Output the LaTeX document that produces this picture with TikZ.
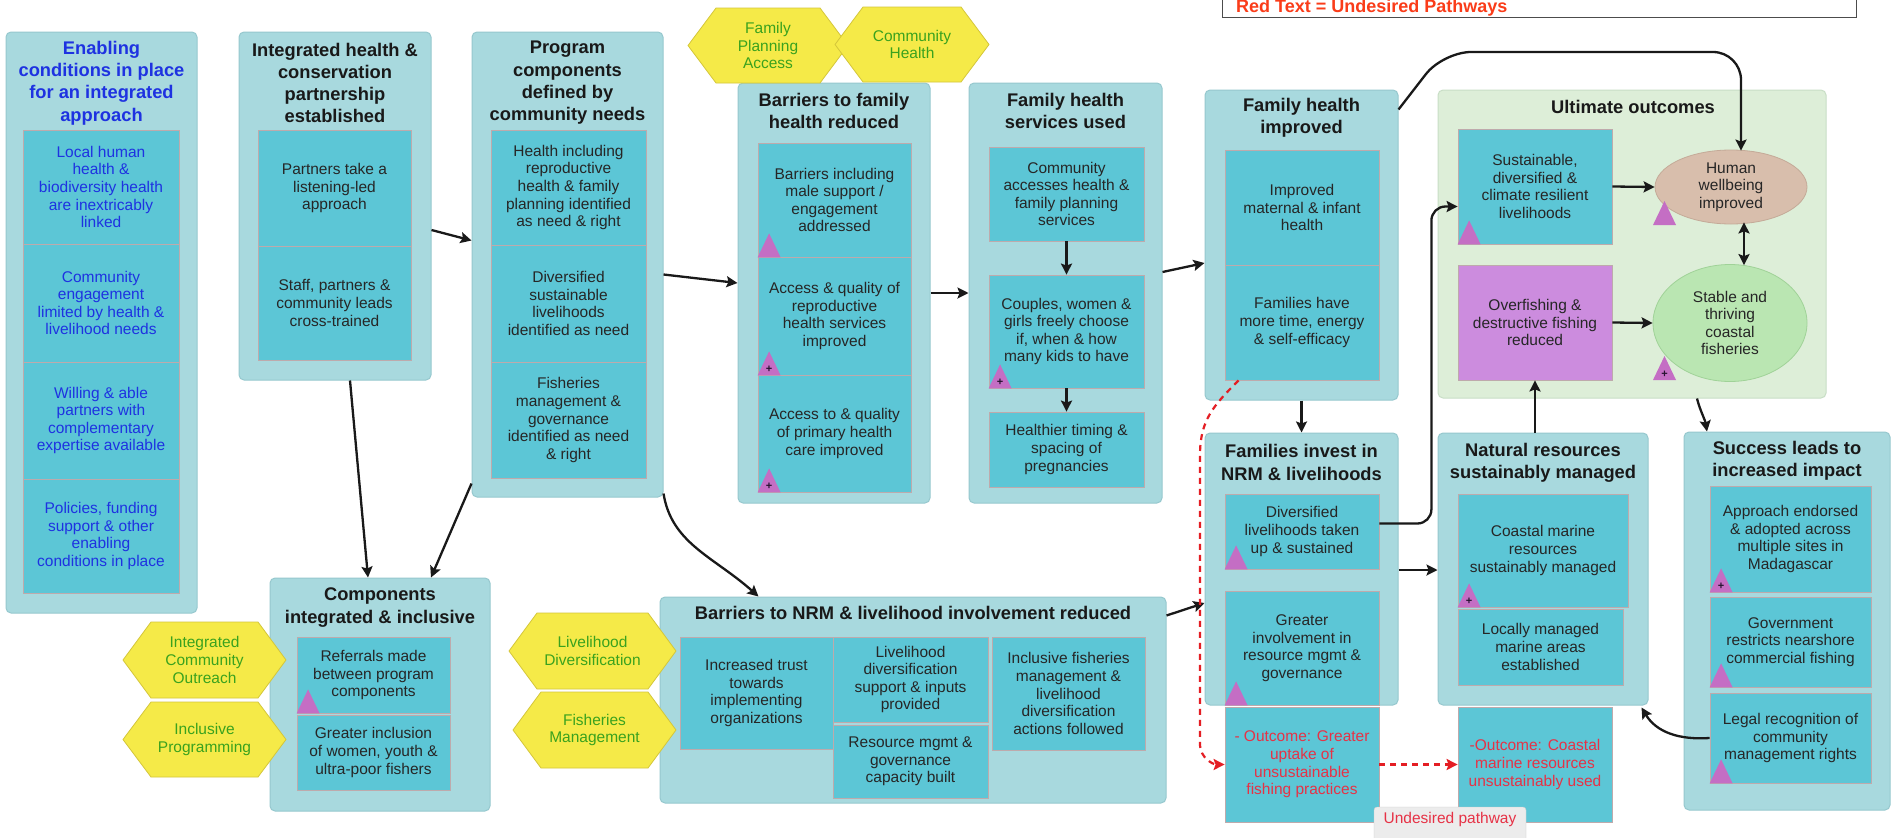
\documentclass[tikz,border=0pt]{standalone}
\usepackage{fontspec}
\setmainfont{Liberation Sans}
\usetikzlibrary{arrows.meta,calc,shapes.geometric}

\definecolor{outerbg}{RGB}{168,217,222}
\definecolor{outerln}{RGB}{150,200,206}
\definecolor{innerbg}{RGB}{92,198,214}
\definecolor{innerln}{RGB}{190,170,172}
\definecolor{ultbg}{RGB}{221,238,216}
\definecolor{ultln}{RGB}{200,222,198}
\definecolor{hexbg}{RGB}{245,234,72}
\definecolor{hexln}{RGB}{212,198,58}
\definecolor{hexfg}{RGB}{58,162,30}
\definecolor{encfg}{RGB}{30,50,225}
\definecolor{undes}{RGB}{230,50,70}
\definecolor{legendfg}{RGB}{250,60,25}
\definecolor{trifill}{RGB}{196,110,196}
\definecolor{wellbg}{RGB}{216,190,172}
\definecolor{wellln}{RGB}{196,170,152}
\definecolor{fishbg}{RGB}{186,230,178}
\definecolor{fishln}{RGB}{160,210,152}
\definecolor{overbg}{RGB}{204,140,222}
\definecolor{tagbg}{RGB}{236,236,236}
\definecolor{dashred}{RGB}{228,30,36}

\newcommand\bodysize{\fontsize{15.5}{17.6}\selectfont}
\newcommand\headsize{\bfseries\fontsize{18.3}{22.3}\selectfont}

% box from its corners: name, style, x1, y1, x2, y2, text
\newcommand\mkbox[7]{\node[#2, minimum width={(#5)-(#3)}, minimum height={(#6)-(#4)}] (#1) at ({((#3)+(#5))/2},{((#4)+(#6))/2}) {#7};}
% flat-topped hexagon: name, cx, cy, w, h, text
\newcommand\mkhex[6]{%
  \draw[hexshape] ({#2-#4/2},#3) -- ({#2-#4/2+28},{#3-#5/2}) -- ({#2+#4/2-28},{#3-#5/2}) -- ({#2+#4/2},#3) -- ({#2+#4/2-28},{#3+#5/2}) -- ({#2-#4/2+28},{#3+#5/2}) -- cycle;
  \node[hextext] (#1) at (#2,#3) {#6};}
% marker triangles at a bottom-left corner
\newcommand\tri[1]{\fill[trifill] (#1) -- ++(23,0) -- ++(-11.5,-24) -- cycle;}
\newcommand\triplus[2]{\tri{#2}\node[plusmark] (#1) at ($(#2)+(11.5,-6)$) {+};}

\tikzset{
  outerbox/.style={draw=outerln, fill=outerbg, line width=1pt, rounded corners=5pt, inner sep=0pt},
  ultbox/.style={draw=ultln, fill=ultbg, line width=1pt, rounded corners=5pt, inner sep=0pt},
  innerbox/.style={draw=innerln, fill=innerbg, line width=0.8pt, inner sep=2pt, align=center, font=\bodysize, text=black!85},
  redbox/.style={innerbox, text=undes},
  overbox/.style={innerbox, fill=overbg},
  headtext/.style={align=center, font=\headsize, text=black!90, inner sep=0pt},
  hexshape/.style={fill=hexbg, draw=hexln, line width=0.8pt, line join=round},
  hextext/.style={align=center, font=\bodysize, text=hexfg, inner sep=0pt},
  ellnode/.style={ellipse, align=center, font=\bodysize, text=black!85, inner sep=0pt, line width=0.8pt},
  plusmark/.style={font=\bfseries\fontsize{11}{11}\selectfont, text={rgb,255:red,40;green,20;blue,50}, inner sep=0pt},
  arr/.style={-{Stealth[length=11pt,width=11pt,inset=2pt]}, line width=2.3pt, draw=black!90},
  arrboth/.style={{Stealth[length=11pt,width=11pt,inset=2pt]}-{Stealth[length=11pt,width=11pt,inset=2pt]}, line width=2.3pt, draw=black!90},
  dasharr/.style={-{Stealth[length=11pt,width=11pt,inset=2pt]}, line width=2.2pt, draw=dashred, dash pattern=on 6pt off 5pt},
}

\begin{document}
\begin{tikzpicture}[x=1pt, y=-1pt]
\fill[white] (0,0) rectangle (1893,838);
\useasboundingbox (0,0) rectangle (1893,838);

% legend
\mkbox{lg}{draw=black!70, fill=white, line width=1pt, inner sep=0pt}{1222}{-6}{1856}{17}{}
\node[anchor=base west, font=\bfseries\fontsize{18}{18}\selectfont, text=legendfg, inner sep=0pt] (lgt) at (1236,12) {Red Text = Undesired Pathways};

% enabling conditions
\mkbox{en}{outerbox}{6}{32}{197}{613}{}
\node[headtext, text=encfg] (ent) at (101.5,83) {Enabling\\conditions in place\\for an integrated\\approach};
\mkbox{en1}{innerbox, text=encfg}{23}{130}{179}{244}{Local human\\health \&\\biodiversity health\\are inextricably\\linked}
\mkbox{en2}{innerbox, text=encfg}{23}{244}{179}{362}{Community\\engagement\\limited by health \&\\livelihood needs}
\mkbox{en3}{innerbox, text=encfg}{23}{362}{179}{479}{Willing \& able\\partners with\\complementary\\expertise available}
\mkbox{en4}{innerbox, text=encfg}{23}{479}{179}{593}{Policies, funding\\support \& other\\enabling\\conditions in place}

% partnership
\mkbox{ih}{outerbox}{239}{32}{431}{380}{}
\node[headtext] (iht) at (335,83) {Integrated health \&\\conservation\\partnership\\established};
\mkbox{ih1}{innerbox}{258}{130}{411}{246}{Partners take a\\listening-led\\approach}
\mkbox{ih2}{innerbox}{258}{246}{411}{360}{Staff, partners \&\\community leads\\cross-trained}

% program components
\mkbox{pc}{outerbox}{472}{32}{663}{497}{}
\node[headtext] (pct) at (567.5,83) {Program\\components\\defined by\\community needs};
\mkbox{pc1}{innerbox}{491}{130}{646}{245}{Health including\\reproductive\\health \& family\\planning identified\\as need \& right}
\mkbox{pc2}{innerbox}{491}{245}{646}{362}{Diversified\\sustainable\\livelihoods\\identified as need}
\mkbox{pc3}{innerbox}{491}{362}{646}{478}{Fisheries\\management \&\\governance\\identified as need\\\& right}

% barriers to family health
\mkbox{bf}{outerbox}{738}{83}{930}{503}{}
\node[headtext] (bft) at (834,111) {Barriers to family\\health reduced};
\mkbox{bf1}{innerbox}{758}{143}{911}{257}{Barriers including\\male support /\\engagement\\addressed}
\mkbox{bf2}{innerbox}{758}{257}{911}{375}{Access \& quality of\\reproductive\\health services\\improved}
\mkbox{bf3}{innerbox}{758}{375}{911}{492}{Access to \& quality\\of primary health\\care improved}

% family health services
\mkbox{fs}{outerbox}{969}{83}{1162}{503}{}
\node[headtext] (fst) at (1065.5,111) {Family health\\services used};
\mkbox{fs1}{innerbox}{989}{147}{1144}{241}{Community\\accesses health \&\\family planning\\services}
\mkbox{fs2}{innerbox}{989}{275}{1144}{388}{Couples, women \&\\girls freely choose\\if, when \& how\\many kids to have}
\mkbox{fs3}{innerbox}{989}{412}{1144}{487}{Healthier timing \&\\spacing of\\pregnancies}

% family health improved
\mkbox{fh}{outerbox}{1205}{90}{1398}{400}{}
\node[headtext] (fht) at (1301.5,117.5) {Family health\\improved};
\mkbox{fh1}{innerbox}{1225}{150}{1379}{265}{Improved\\maternal \& infant\\health}
\mkbox{fh2}{innerbox}{1225}{265}{1379}{380}{Families have\\more time, energy\\\& self-efficacy}

% ultimate outcomes
\mkbox{uo}{ultbox}{1438}{90}{1826}{398}{}
\node[headtext] (uot) at (1633,107) {Ultimate outcomes};
\mkbox{uo1}{innerbox}{1458}{129}{1612}{244}{Sustainable,\\diversified \&\\climate resilient\\livelihoods}
\mkbox{uo2}{overbox}{1458}{265}{1612}{380}{Overfishing \&\\destructive fishing\\reduced}
\node[ellnode, fill=wellbg, draw=wellln, minimum width=152, minimum height=74] (hw) at (1731,187) {Human\\wellbeing\\improved};
\node[ellnode, fill=fishbg, draw=fishln, minimum width=154, minimum height=117] (sf) at (1730,323) {Stable and\\thriving\\coastal\\fisheries};

% families invest
\mkbox{fi}{outerbox}{1205}{433}{1398}{705}{}
\node[headtext] (fit) at (1301.5,462.5) {Families invest in\\NRM \& livelihoods};
\mkbox{fi1}{innerbox}{1225}{494}{1379}{569}{Diversified\\livelihoods taken\\up \& sustained}
\mkbox{fi2}{innerbox}{1225}{591}{1379}{705}{Greater\\involvement in\\resource mgmt \&\\governance}
\mkbox{fo}{redbox}{1225}{707}{1379}{822}{- Outcome: Greater\\uptake of\\unsustainable\\fishing practices}

% natural resources
\mkbox{nr}{outerbox}{1438}{433}{1648}{705}{}
\node[headtext] (nrt) at (1543,462.5) {Natural resources\\sustainably managed};
\mkbox{nr1}{innerbox}{1458}{494}{1628}{607}{Coastal marine\\resources\\sustainably managed}
\mkbox{nr2}{innerbox}{1458}{609}{1623}{685}{Locally managed\\marine areas\\established}
\mkbox{no}{redbox}{1458}{707}{1612}{822}{-Outcome: Coastal\\marine resources\\unsustainably used}

% success
\mkbox{su}{outerbox}{1684}{432}{1890}{810}{}
\node[headtext] (sut) at (1787,461) {Success leads to\\increased impact};
\mkbox{su1}{innerbox}{1710}{486}{1871}{592}{Approach endorsed\\\& adopted across\\multiple sites in\\Madagascar}
\mkbox{su2}{innerbox}{1710}{597}{1871}{687}{Government\\restricts nearshore\\commercial fishing}
\mkbox{su3}{innerbox}{1710}{693}{1871}{783}{Legal recognition of\\community\\management rights}

% components integrated
\mkbox{ci}{outerbox}{270}{578}{490}{811}{}
\node[headtext] (cit) at (380,607.5) {Components\\integrated \& inclusive};
\mkbox{ci1}{innerbox}{297}{637}{450}{713}{Referrals made\\between program\\components}
\mkbox{ci2}{innerbox}{297}{715}{450}{790}{Greater inclusion\\of women, youth \&\\ultra-poor fishers}

% barriers to NRM
\mkbox{bn}{outerbox}{660}{597}{1166}{803}{}
\node[headtext] (bnt) at (913,613) {Barriers to NRM \& livelihood involvement reduced};
\mkbox{bn1}{innerbox}{680}{637}{833}{749}{Increased trust\\towards\\implementing\\organizations}
\mkbox{bn2}{innerbox}{833}{637}{988}{722}{Livelihood\\diversification\\support \& inputs\\provided}
\mkbox{bn3}{innerbox}{833}{725}{988}{798}{Resource mgmt \&\\governance\\capacity built}
\mkbox{bn4}{innerbox}{992}{637}{1145}{750}{Inclusive fisheries\\management \&\\livelihood\\diversification\\actions followed}

% undesired pathway tag
\mkbox{tag}{draw=black!20, fill=tagbg, rounded corners=3pt, inner sep=0pt}{1374}{807}{1526}{846}{}
\node[font=\bodysize, text=undes, inner sep=0pt] (tagt) at (1450,819) {Undesired pathway};

% marker triangles
\tri{bf1.south west}
\triplus{bf2p}{bf2.south west}
\triplus{bf3p}{bf3.south west}
\triplus{fs2p}{fs2.south west}
\tri{uo1.south west}
\coordinate (hwtri) at (1653,225);
\coordinate (sftri) at (1653,380);
\tri{hwtri}
\triplus{sfp}{sftri}
\tri{fi1.south west}
\tri{fi2.south west}
\triplus{nr1p}{nr1.south west}
\triplus{su1p}{su1.south west}
\tri{su2.south west}
\tri{su3.south west}
\tri{ci1.south west}

% intervention hexagons
\mkhex{fpa}{768}{45.5}{160}{75}{Family\\Planning\\Access}
\mkhex{ch}{912}{44.5}{154}{75}{Community\\Health}
\mkhex{ico}{204.5}{660}{163}{76}{Integrated\\Community\\Outreach}
\mkhex{ip}{204.5}{739.5}{163}{75}{Inclusive\\Programming}
\mkhex{ld}{592.5}{651}{167}{76}{Livelihood\\Diversification}
\mkhex{fm}{594.5}{730}{163}{76}{Fisheries\\Management}

% connectors
\draw[arr] ($(ih.east)+(0,24)$) -- ($(pc.west)+(0,-24)$);
\draw[arr] ($(pc.east)+(0,10)$) -- ($(bf.west)+(0,-10)$);
\draw[arr] (bf.east) -- (fs.west);
\draw[arr] ($(fs.east)+(0,-21)$) -- ($(fh.west)+(0,18)$);
\draw[arr] (fs1) -- (fs2);
\draw[arr] (fs2) -- (fs3);
\draw[arr] ($(ih.south)+(15,0)$) -- ($(ci.north)+(-12,0)$);
\draw[arr] ($(pc.south west)+(0,-14)$) -- ($(ci.north)+(51,0)$);
\draw[arr] ($(pc.south east)+(0,-4)$) .. controls +(8,50) and +(-45,-40) .. ($(bn.north west)+(99,0)$);
\draw[arr] ($(bn.north east)+(0,19)$) -- ($(fi.west)+(0,34)$);
\draw[arr] (fh) -- (fi);
\draw[arr] ($(fi.east)+(0,1)$) -- ($(nr.west)+(0,1)$);
\draw[arr, rounded corners=14pt] ($(fi1.east)+(0,-8)$) -- ++(52,0) |- ($(uo1.west)+(0,20)$);
\draw[arr] (nr.north -| uo2.south) -- (uo2.south);
\draw[arr] ($(uo.south)+(65,0)$) .. controls +(3,12) and +(-2,-12) .. ($(su.north)+(-80,0)$);
\draw[arr] (su3.west) .. controls +(-30,2) and +(15,25) .. ($(nr.south east)+(-7,2)$);
\draw[arr] (uo1.east) -- (hw.west);
\draw[arr] (uo2.east) -- (sf.west);
\draw[arrboth] ($(hw.south)+(13,-2)$) -- ($(sf.north)+(14,1)$);
\coordinate (arcL) at (1443,52);
\coordinate (arcR) at (1741,52);
\draw[arr, rounded corners=28pt] ($(fh.north east)+(0,20)$) -- (arcL) -- (arcR) -- ($(hw.north)+(10,1)$);

% undesired pathway
\coordinate (rd1) at (1200,455);
\coordinate (rd2) at (1200,745);
\draw[dasharr] ($(fh2.south west)+(14,0)$) .. controls +(-25,25) and +(0,-35) .. (rd1) -- (rd2) .. controls +(0,12) and +(-12,0) .. (fo.west);
\draw[dasharr] (fo.east) -- (no.west);
\end{tikzpicture}
\end{document}
